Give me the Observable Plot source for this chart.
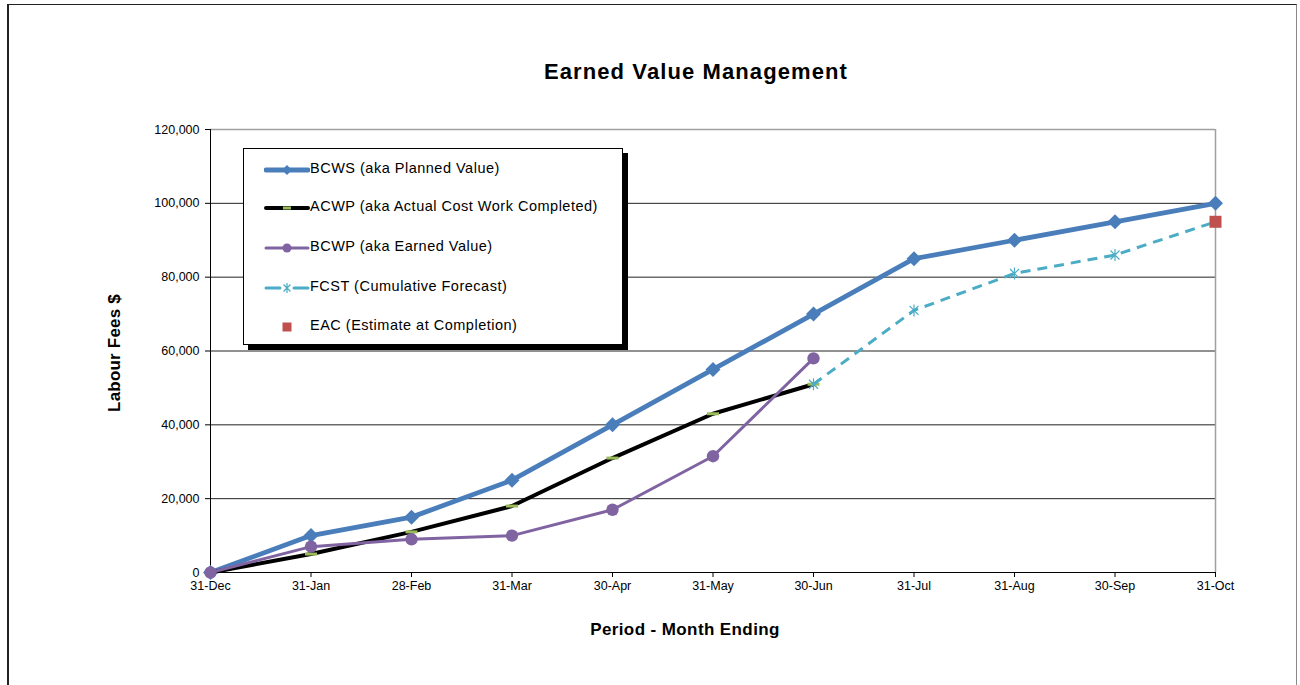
<!DOCTYPE html>
<html>
<head>
<meta charset="utf-8">
<script src="https://cdn.jsdelivr.net/npm/d3@7"></script>
<script src="https://cdn.jsdelivr.net/npm/@observablehq/plot@0.6"></script>
<style>
  html, body { margin: 0; padding: 0; background: #fff; }
  body { width: 1300px; height: 685px; overflow: hidden; font-family: Arial, "Liberation Sans", sans-serif; }
  #wrap { position: relative; width: 1300px; height: 685px; }
  #wrap > svg { position: absolute; left: 0; top: 0; }
  .outer { position: absolute; left: 7px; top: 4px; width: 1290px; height: 720px;
           border-top: 1px solid #222; border-left: 2px solid #222; border-right: 1px solid #888; box-sizing: border-box; }
  .title { position: absolute; left: 0; width: 1392px; top: 59px; text-align: center;
           font-weight: bold; font-size: 22px; letter-spacing: 1.1px; }
  .xtitle { position: absolute; left: 0; width: 1370px; top: 620px; text-align: center;
            font-weight: bold; font-size: 17px; letter-spacing: 0.4px; }
  .ytitle { position: absolute; left: 115px; top: 353px; transform: translate(-50%, -50%) rotate(-90deg);
            font-weight: bold; font-size: 17px; letter-spacing: 0.2px; white-space: nowrap; }
  .legend { position: absolute; left: 243px; top: 148px; width: 380px; height: 197px; box-sizing: border-box;
            border: 1px solid #000; background: #fff; box-shadow: 5px 5px 0 #000; }
  .row { position: absolute; left: 0; height: 20px; width: 370px; }
  .row svg { position: absolute; left: 20px; top: 0; }
  .row span { position: absolute; left: 66px; top: 0px; font-size: 14.5px; letter-spacing: 0.5px; white-space: nowrap; }
</style>
</head>
<body>
<div id="wrap">
  <div class="outer"></div>
</div>
<script>
// ---- data ----
const months = ["31-Dec","31-Jan","28-Feb","31-Mar","30-Apr","31-May","30-Jun","31-Jul","31-Aug","30-Sep","31-Oct"];
const bcws = [0, 10000, 15000, 25000, 40000, 55000, 70000, 85000, 90000, 95000, 100000];
const acwp = [0, 5000, 11000, 18000, 31000, 43000, 51000];
const bcwp = [0, 7000, 9000, 10000, 17000, 31500, 58000];
const fcstMonths = ["30-Jun","31-Jul","31-Aug","30-Sep","31-Oct"];
const fcst = [51000, 71000, 81000, 86000, 95000];
const eacMonths = ["31-Oct"];
const eac = [95000];
const yTicks = [0, 20000, 40000, 60000, 80000, 100000, 120000];
const gridTicks = [20000, 40000, 60000, 80000, 100000];
const seriesNames = [
  "BCWS (aka Planned Value)",
  "ACWP (aka Actual Cost Work Completed)",
  "BCWP (aka Earned Value)",
  "FCST (Cumulative Forecast)",
  "EAC (Estimate at Completion)"
];

const C = { blue: "#4A7EBB", black: "#000000", purple: "#8064A2", cyan: "#4BACC6", green: "#9BBB59", red: "#C0504D" };

const toRows = (xs, ys) => ys.map((v, i) => ({ m: xs[i], v }));
const dBCWS = toRows(months, bcws);
const dACWP = toRows(months, acwp);
const dBCWP = toRows(months, bcwp);
const dFCST = toRows(fcstMonths, fcst);
const dEAC = toRows(eacMonths, eac);

// ---- custom symbols ----
const rad = s => Math.sqrt(s / Math.PI);
const diamondSym = { draw(ctx, s) { const r = rad(s); ctx.moveTo(0, -r); ctx.lineTo(r, 0); ctx.lineTo(0, r); ctx.lineTo(-r, 0); ctx.closePath(); } };
const dashSym = { draw(ctx, s) { const r = rad(s); ctx.rect(-r, -1.5, 2 * r, 3); } };
const starSym = { draw(ctx, s) { const r = rad(s); const d = r * 0.75;
  ctx.moveTo(0, -r); ctx.lineTo(0, r);
  ctx.moveTo(-d, -d); ctx.lineTo(d, d);
  ctx.moveTo(-d, d); ctx.lineTo(d, -d); } };
const squareSym = { draw(ctx, s) { const r = rad(s); ctx.rect(-r, -r, 2 * r, 2 * r); } };

const chart = Plot.plot({
  width: 1300,
  height: 685,
  marginTop: 129,
  marginRight: 85,
  marginBottom: 113,
  marginLeft: 210,
  style: { fontFamily: "Arial, 'Liberation Sans', sans-serif", fontSize: "12.5px", color: "#000", background: "transparent" },
  x: { type: "point", domain: months, padding: 0, round: false },
  y: { domain: [0, 120000] },
  marks: [
    Plot.gridY(gridTicks, { stroke: "#222", strokeOpacity: 1 }),
    Plot.ruleY([120000], { stroke: "#a0a0a0", strokeWidth: 1.5 }),
    Plot.ruleX([months[months.length - 1]], { stroke: "#a0a0a0", strokeWidth: 1.5 }),
    Plot.ruleY([0], { stroke: "#000" }),
    Plot.ruleX([months[0]], { stroke: "#000" }),
    Plot.axisY({ ticks: yTicks, tickFormat: d3.format(","), tickSize: 5, tickPadding: 6, label: null }),
    Plot.axisX({ tickSize: 5, tickPadding: 4, label: null }),
    Plot.line(dBCWS, { x: "m", y: "v", stroke: C.blue, strokeWidth: 4.8 }),
    Plot.dot(dBCWS, { x: "m", y: "v", symbol: diamondSym, r: 7.5, fill: C.blue, stroke: "none" }),
    Plot.line(dACWP, { x: "m", y: "v", stroke: C.black, strokeWidth: 4 }),
    Plot.dot(dACWP.slice(1), { x: "m", y: "v", symbol: dashSym, r: 6, fill: C.green, stroke: "none" }),
    Plot.line(dBCWP, { x: "m", y: "v", stroke: C.purple, strokeWidth: 3 }),
    Plot.dot(dBCWP, { x: "m", y: "v", r: 6.2, fill: C.purple, stroke: "none" }),
    Plot.line(dFCST, { x: "m", y: "v", stroke: C.cyan, strokeWidth: 3, strokeDasharray: "10,7", strokeLinecap: "butt" }),
    Plot.dot(dFCST, { x: "m", y: "v", symbol: starSym, r: 6, fill: "none", stroke: C.cyan, strokeWidth: 1.2 }),
    Plot.dot(dEAC, { x: "m", y: "v", symbol: squareSym, r: 6, fill: C.red, stroke: "none" })
  ]
});

const wrap = document.getElementById("wrap");
wrap.appendChild(chart);

function addDiv(cls, text) { const d = document.createElement("div"); d.className = cls; d.textContent = text; wrap.appendChild(d); return d; }
addDiv("title", "Earned Value Management");
addDiv("xtitle", "Period - Month Ending");
addDiv("ytitle", "Labour Fees $");

// legend
const legend = document.createElement("div");
legend.className = "legend";
wrap.appendChild(legend);
const rowTops = [11, 49, 89, 129, 168];
const NS = "http://www.w3.org/2000/svg";
function el(tag, attrs) { const e = document.createElementNS(NS, tag); for (const k in attrs) e.setAttribute(k, attrs[k]); return e; }
seriesNames.forEach((name, i) => {
  const row = document.createElement("div");
  row.className = "row";
  row.style.top = rowTops[i] + "px";
  const s = el("svg", { width: 46, height: 20 });
  const cy = 10;
  if (i === 0) {
    s.appendChild(el("line", { x1: 2, x2: 44, y1: cy, y2: cy, stroke: C.blue, "stroke-width": 4.8, "stroke-linecap": "round" }));
    s.appendChild(el("path", { d: `M23,${cy-5}L28,${cy}L23,${cy+5}L18,${cy}Z`, fill: C.blue }));
  } else if (i === 1) {
    s.appendChild(el("line", { x1: 2, x2: 44, y1: cy, y2: cy, stroke: C.black, "stroke-width": 4, "stroke-linecap": "round" }));
    s.appendChild(el("rect", { x: 19, y: cy - 1.5, width: 8, height: 3, fill: C.green }));
  } else if (i === 2) {
    s.appendChild(el("line", { x1: 2, x2: 44, y1: cy, y2: cy, stroke: C.purple, "stroke-width": 3, "stroke-linecap": "round" }));
    s.appendChild(el("circle", { cx: 23, cy, r: 4.5, fill: C.purple }));
  } else if (i === 3) {
    s.appendChild(el("line", { x1: 2, x2: 16, y1: cy, y2: cy, stroke: C.cyan, "stroke-width": 3, "stroke-linecap": "round" }));
    s.appendChild(el("line", { x1: 30, x2: 44, y1: cy, y2: cy, stroke: C.cyan, "stroke-width": 3, "stroke-linecap": "round" }));
    s.appendChild(el("path", { d: `M23,${cy-5}L23,${cy+5}M19.5,${cy-3.5}L26.5,${cy+3.5}M19.5,${cy+3.5}L26.5,${cy-3.5}`, stroke: C.cyan, "stroke-width": 1.2, fill: "none" }));
  } else {
    s.appendChild(el("rect", { x: 18.5, y: cy - 4.5, width: 9, height: 9, fill: C.red }));
  }
  row.appendChild(s);
  const t = document.createElement("span");
  t.textContent = name;
  row.appendChild(t);
  legend.appendChild(row);
});
</script>
</body>
</html>
